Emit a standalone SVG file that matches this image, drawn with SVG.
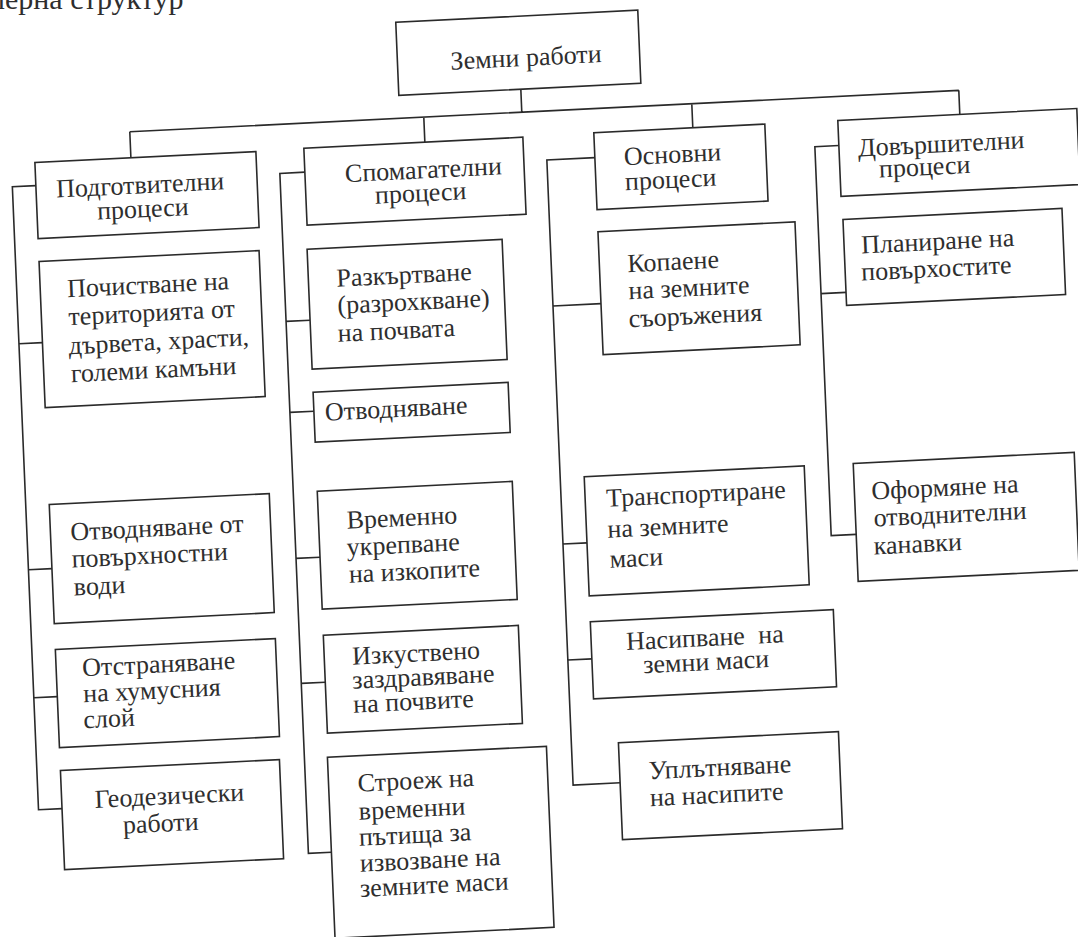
<svg xmlns="http://www.w3.org/2000/svg" width="1078" height="937" viewBox="0 0 1078 937">
<style>
.box{fill:#fff;stroke:#2a2a2a;stroke-width:1.6}
.ln{fill:none;stroke:#2a2a2a;stroke-width:1.6}
.t{font-family:"Liberation Serif","DejaVu Serif",serif;font-size:26px;fill:#2e2e2e}
</style>
<rect x="0" y="0" width="1078" height="937" fill="#fff"/>
<text class="t" x="-14" y="9" style="font-size:30px">мерна структур</text>
<g transform="matrix(1,-0.05,0.042,1,0,0)">
<g id="connectors">
<path class="ln" d="M516 115V138M124 138H953M124 138V164M418 138V163M686 138V162M953 138V162"/>
<path class="ln" d="M28 187H4.5V810H28M4.5 344H28M4.5 570H28M4.5 698H28"/>
<path class="ln" d="M297 187H272V867H295M272 335H296M272 426H296M272 572H296M272 697H296"/>
<path class="ln" d="M587 187H539V812H586M539 333H587M539 571H563M539 687H563"/>
<path class="ln" d="M831 187H807V576H832M807 334H832"/>
</g>
<g id="n0"><rect class="box" x="394" y="42" width="242" height="73"/><text class="t" x="447" y="92">Земни работи</text></g>
<g id="h1"><rect class="box" x="28" y="164" width="221" height="76"/><text class="t" x="48" y="200">Подготвителни</text><text class="t" x="88" y="224">процеси</text></g>
<g id="h2"><rect class="box" x="297" y="163" width="219" height="77"/><text class="t" x="337" y="199">Спомагателни</text><text class="t" x="366" y="222">процеси</text></g>
<g id="h3"><rect class="box" x="587" y="162" width="171" height="77"/><text class="t" x="616" y="196">Основни</text><text class="t" x="616" y="221">процеси</text></g>
<g id="h4"><rect class="box" x="831" y="162" width="239" height="76"/><text class="t" x="850" y="199">Довършителни</text><text class="t" x="870" y="221">процеси</text></g>
<g id="a1"><rect class="box" x="28" y="263" width="220" height="146"/><text class="t" x="55" y="300">Почистване на</text><text class="t" x="55" y="328">територията от</text><text class="t" x="54" y="357">дървета, храсти,</text><text class="t" x="55" y="385">големи камъни</text></g>
<g id="a2"><rect class="box" x="28" y="506" width="220" height="119"/><text class="t" x="48" y="543">Отводняване от</text><text class="t" x="48" y="570">повърхностни</text><text class="t" x="49" y="598">води</text></g>
<g id="a3"><rect class="box" x="28" y="651" width="220" height="98"/><text class="t" x="54" y="679">Отстраняване</text><text class="t" x="54" y="705">на хумусния</text><text class="t" x="53" y="731">слой</text></g>
<g id="a4"><rect class="box" x="28" y="772" width="219" height="99"/><text class="t" x="61" y="811">Геодезически</text><text class="t" x="88" y="838">работи</text></g>
<g id="b1"><rect class="box" x="296" y="264" width="195" height="120"/><text class="t" x="324" y="303">Разкъртване</text><text class="t" x="324" y="330">(разрохкване)</text><text class="t" x="323" y="358">на почвата</text></g>
<g id="b2"><rect class="box" x="296" y="407" width="195" height="50"/><text class="t" x="307" y="436">Отводняване</text></g>
<g id="b3"><rect class="box" x="296" y="506" width="195" height="118"/><text class="t" x="324" y="545">Временно</text><text class="t" x="323" y="572">укрепване</text><text class="t" x="324" y="599">на изкопите</text></g>
<g id="b4"><rect class="box" x="296" y="650" width="195" height="98"/><text class="t" x="324" y="681">Изкуствено</text><text class="t" x="323" y="705">заздравяване</text><text class="t" x="323" y="729">на почвите</text></g>
<g id="b5"><rect class="box" x="295" y="772" width="219" height="181"/><text class="t" x="324" y="808">Строеж на</text><text class="t" x="324" y="836">временни</text><text class="t" x="323" y="862">пътища за</text><text class="t" x="323" y="888">извозване на</text><text class="t" x="322" y="913">земните маси</text></g>
<g id="c1"><rect class="box" x="587" y="261" width="197" height="123"/><text class="t" x="615" y="303">Копаене</text><text class="t" x="615" y="330">на земните</text><text class="t" x="614" y="358">съоръжения</text></g>
<g id="c2"><rect class="box" x="563" y="505" width="220" height="119"/><text class="t" x="584" y="536">Транспортиране</text><text class="t" x="584" y="567">на земните</text><text class="t" x="585" y="597">маси</text></g>
<g id="c3"><rect class="box" x="563" y="650" width="243" height="77"/><text class="t" x="598" y="680">Насипване <tspan dx="7">на</tspan></text><text class="t" x="614" y="704">земни маси</text></g>
<g id="c4"><rect class="box" x="586" y="772" width="220" height="97"/><text class="t" x="615" y="810">Уплътняване</text><text class="t" x="615" y="837">на насипите</text></g>
<g id="d1"><rect class="box" x="832" y="261" width="219" height="86"/><text class="t" x="849" y="296">Планиране на</text><text class="t" x="848" y="323">повърхостите</text></g>
<g id="d2"><rect class="box" x="832" y="505" width="221" height="118"/><text class="t" x="849" y="542">Оформяне на</text><text class="t" x="850" y="569">отводнителни</text><text class="t" x="849" y="597">канавки</text></g>
</g>
</svg>
